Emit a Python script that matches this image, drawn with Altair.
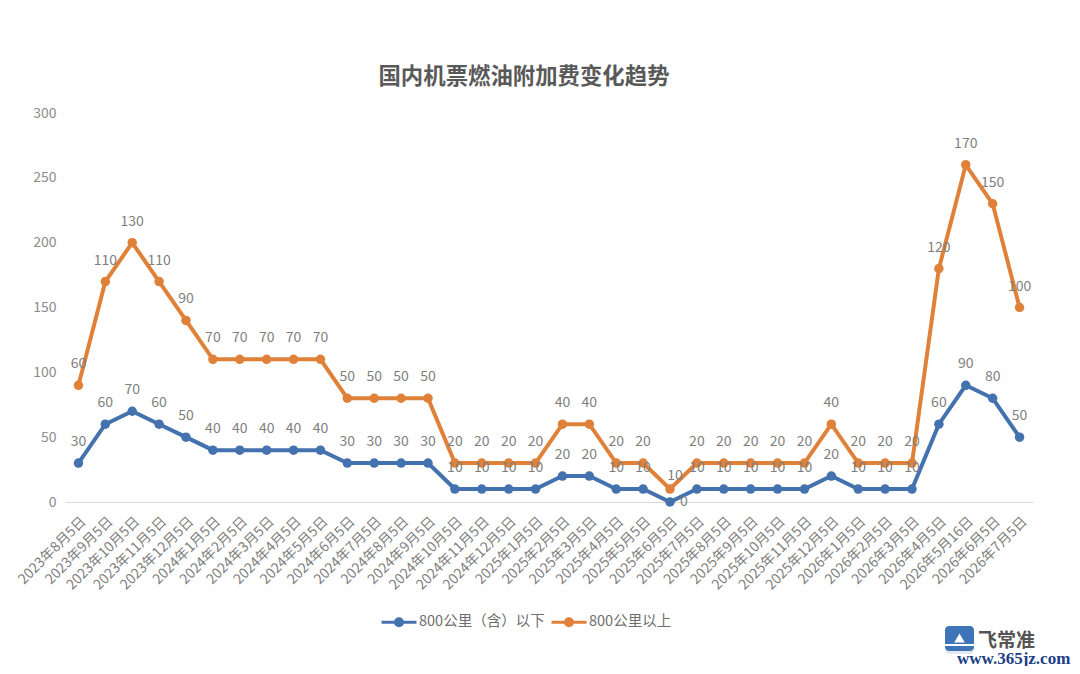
import altair as alt
import pandas as pd

FONT = "Noto Sans CJK SC"
months = ["2023年8月5日","2023年9月5日","2023年10月5日","2023年11月5日","2023年12月5日",
"2024年1月5日","2024年2月5日","2024年3月5日","2024年4月5日","2024年5月5日","2024年6月5日","2024年7月5日","2024年8月5日","2024年9月5日","2024年10月5日","2024年11月5日","2024年12月5日",
"2025年1月5日","2025年2月5日","2025年3月5日","2025年4月5日","2025年5月5日","2025年6月5日","2025年7月5日","2025年8月5日","2025年9月5日","2025年10月5日","2025年11月5日","2025年12月5日",
"2026年1月5日","2026年2月5日","2026年3月5日","2026年4月5日","2026年5月16日","2026年6月5日","2026年7月5日"]
short = [30,60,70,60,50,40,40,40,40,40,30,30,30,30,10,10,10,10,20,20,10,10,0,10,10,10,10,10,20,10,10,10,60,90,80,50]
long_ = [60,110,130,110,90,70,70,70,70,70,50,50,50,50,20,20,20,20,40,40,20,20,10,20,20,20,20,20,40,20,20,20,120,170,150,100]
names = ["800公里（含）以下", "800公里以上"]
colors = ["#4472AE", "#E0813A"]
moved_month = "2025年6月5日"

rows = []
for m, a, b in zip(months, short, long_):
    rows.append({"month": m, "series": names[0], "label": a, "y": a})
    rows.append({"month": m, "series": names[1], "label": b, "y": a + b})
df = pd.DataFrame(rows)

legend_symbol = ("M-1,0H1 M0.2,0A0.2,0.2,0,1,1,-0.2,0A0.2,0.2,0,1,1,0.2,0 "
                 "M0.06,0A0.06,0.06,0,1,1,-0.06,0A0.06,0.06,0,1,1,0.06,0")

x = alt.X("month:N", sort=months, title=None,
          scale=alt.Scale(paddingInner=0, paddingOuter=0.0),
          axis=alt.Axis(labelAngle=-45, labelFont=FONT, labelFontSize=14, labelColor="#7f7f7f",
                        ticks=False, domainColor="#d9d9d9", domainWidth=1, labelPadding=12, labelOverlap=False))
y = alt.Y("y:Q", title=None, scale=alt.Scale(domain=[0, 300]),
          axis=alt.Axis(values=[0,50,100,150,200,250,300], grid=False, domain=False, ticks=False,
                        labelFont=FONT, labelFontSize=14, labelColor="#8c8c8c", labelPadding=9))
color = alt.Color("series:N", sort=names, scale=alt.Scale(domain=names, range=colors),
                  legend=alt.Legend(title=None, orient="none", legendX=315, legendY=490, direction="horizontal",
                                    labelFont=FONT, labelFontSize=14.5, labelColor="#6e6e6e",
                                    symbolSize=1225, symbolStrokeWidth=3, symbolType=legend_symbol,
                                    columnPadding=0, labelOffset=1))

base = alt.Chart(df)
lines = base.mark_line(strokeWidth=4, point=alt.OverlayMarkDef(size=90, filled=True, opacity=1)).encode(x=x, y=y, color=color, order=alt.Order("series:N"))

text_style = dict(font=FONT, fontSize=14, color="#7f7f7f", clip=False)
lbl = base.transform_filter(alt.datum.month != moved_month).mark_text(dy=-21, **text_style).encode(
    x=alt.X("month:N", sort=months), y="y:Q", text="label:Q")
m0 = base.transform_filter((alt.datum.month == moved_month) & (alt.datum.series == names[0])).mark_text(dx=14, dy=0, **text_style).encode(
    x=alt.X("month:N", sort=months), y="y:Q", text="label:Q")
m1 = base.transform_filter((alt.datum.month == moved_month) & (alt.datum.series == names[1])).mark_text(dx=5, dy=-13, **text_style).encode(
    x=alt.X("month:N", sort=months), y="y:Q", text="label:Q")

logo_df = alt.Chart(pd.DataFrame({"a": [1]}))
logo_bg = logo_df.mark_rect(color="#e4e9ef", cornerRadius=4).encode(
    x=alt.value(880), x2=alt.value(909), y=alt.value(513), y2=alt.value(541))
logo = logo_df.mark_rect(color="#3F74B8", cornerRadius=4).encode(
    x=alt.value(880), x2=alt.value(909), y=alt.value(513), y2=alt.value(538))
wave = logo_df.mark_rect(color="white").encode(
    x=alt.value(880), x2=alt.value(909), y=alt.value(531), y2=alt.value(533))
plane = logo_df.mark_point(shape="triangle-up", filled=True, opacity=1, color="white", size=110).encode(
    x=alt.value(894.5), y=alt.value(525))
brand = logo_df.mark_text(text="飞常准", font=FONT, fontSize=19, fontWeight="bold", color="#555555", align="left").encode(
    x=alt.value(913), y=alt.value(528))
site = logo_df.mark_text(text="www.365jz.com", font="Liberation Serif", fontSize=17, fontWeight="bold", color="#1d3f86", align="left").encode(
    x=alt.value(892), y=alt.value(546))

chart = alt.layer(lines, lbl, m0, m1, logo_bg, logo, wave, plane, brand, site).properties(
    width=968, height=389,
    title=alt.TitleParams("国内机票燃油附加费变化趋势", font=FONT, fontSize=22.4, fontWeight="bold", color="#595959",
                          anchor="middle", dx=-25, offset=18),
    autosize=alt.AutoSizeParams(type="none"),
    padding={"left": 57, "top": 105, "right": 39, "bottom": 164},
    background="white",
).configure_view(stroke=None)

chart.save("out.html", embed_options={"renderer": "svg", "actions": False})
